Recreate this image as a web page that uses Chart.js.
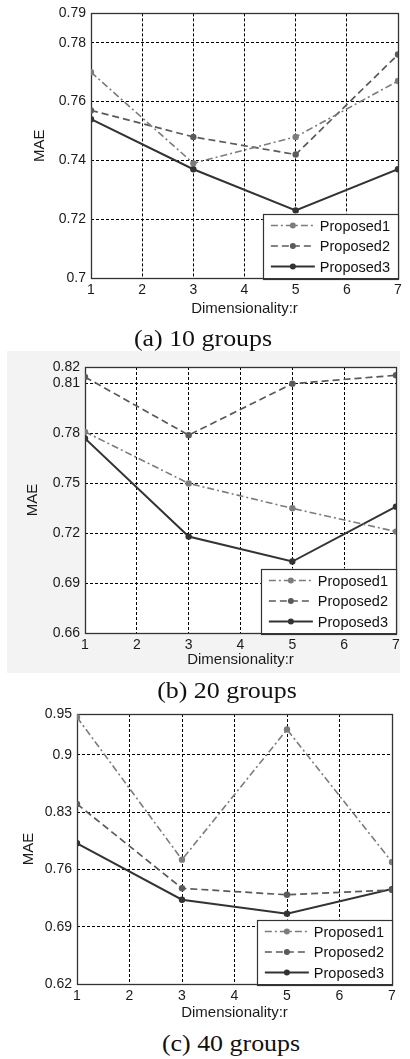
<!DOCTYPE html>
<html>
<head>
<meta charset="utf-8">
<script src="https://cdn.jsdelivr.net/npm/chart.js@4.4.0/dist/chart.umd.min.js"></script>
<style>
  html, body { margin:0; padding:0; background:#fff; }
  body { width:410px; height:1059px; position:relative; overflow:hidden; }
  .wrap { position:absolute; left:0; width:410px; }
  .grayBg { position:absolute; left:7px; top:351px; width:393px; height:322px; background:#f3f3f3; }
  .cap { position:absolute; font-family:"Liberation Serif","Times New Roman",serif; font-size:24px; color:#111;
         transform:translate(-50%,-50%) scaleX(1.08); white-space:nowrap; z-index:5; line-height:1; }
</style>
</head>
<body>
<div class="grayBg"></div>
<div class="wrap" style="top:0;height:320px"><canvas id="cA" width="410" height="320"></canvas></div>
<div class="wrap" style="top:340px;height:340px"><canvas id="cB" width="410" height="340"></canvas></div>
<div class="wrap" style="top:690px;height:340px"><canvas id="cC" width="410" height="340"></canvas></div>
<div class="cap" style="left:203px;top:338px">(a) 10 groups</div>
<div class="cap" style="left:227px;top:690px">(b) 20 groups</div>
<div class="cap" style="left:231px;top:1043px">(c) 40 groups</div>
<script>
// ---------- data ----------
const dims = [1, 3, 5, 7];
const seriesNames = ['Proposed1', 'Proposed2', 'Proposed3'];
const xTicks = [1, 2, 3, 4, 5, 6, 7];

// (a) 10 groups
const a_p1 = [0.770, 0.739, 0.748, 0.767];
const a_p2 = [0.757, 0.748, 0.742, 0.776];
const a_p3 = [0.754, 0.737, 0.723, 0.737];
const a_yTicks = [0.70, 0.72, 0.74, 0.76, 0.78, 0.79];
const a_yLabels = ['0.7', '0.72', '0.74', '0.76', '0.78', '0.79'];

// (b) 20 groups
const b_p1 = [0.781, 0.750, 0.735, 0.721];
const b_p2 = [0.814, 0.779, 0.810, 0.815];
const b_p3 = [0.777, 0.718, 0.703, 0.736];
const b_yTicks = [0.66, 0.69, 0.72, 0.75, 0.78, 0.81, 0.82];
const b_yLabels = ['0.66', '0.69', '0.72', '0.75', '0.78', '0.81', '0.82'];

// (c) 40 groups
const c_p1 = [0.946, 0.772, 0.931, 0.769];
const c_p2 = [0.840, 0.737, 0.729, 0.735];
const c_p3 = [0.792, 0.723, 0.706, 0.736];
const c_yTicks = [0.62, 0.69, 0.76, 0.83, 0.90, 0.95];
const c_yLabels = ['0.62', '0.69', '0.76', '0.83', '0.9', '0.95'];

const xTitle = 'Dimensionality:r';
const yTitle = 'MAE';

// ---------- styles ----------
const styles = [
  { color: '#7c7c7c', dash: [7, 3, 2, 3], width: 1.6 },
  { color: '#5a5a5a', dash: [7, 4], width: 1.7 },
  { color: '#333333', dash: [], width: 2 }
];
const FONT = '"Liberation Sans", Arial, sans-serif';

const framePlugin = {
  id: 'frame',
  beforeDraw(chart, args, opts) {
    const a = chart.chartArea, ctx = chart.ctx;
    if (opts.fill) {
      ctx.save(); ctx.fillStyle = opts.fill;
      ctx.fillRect(a.left, a.top, a.right - a.left, a.bottom - a.top);
      ctx.restore();
    }
  },
  beforeDatasetsDraw(chart) {
    const a = chart.chartArea, ctx = chart.ctx;
    ctx.save();
    ctx.strokeStyle = '#333'; ctx.lineWidth = 1.3; ctx.setLineDash([]);
    ctx.strokeRect(Math.round(a.left) + 0.5, Math.round(a.top) + 0.5,
      Math.round(a.right - a.left), Math.round(a.bottom - a.top));
    ctx.restore();
  }
};

const boxLegend = {
  id: 'boxLegend',
  afterDraw(chart, args, opts) {
    const ctx = chart.ctx, a = chart.chartArea;
    ctx.save();
    ctx.font = '14.5px ' + FONT;
    const names = chart.data.datasets.map(d => d.label);
    const tw = Math.max(...names.map(n => ctx.measureText(n).width));
    const textX = 57, rowH = 20.5;
    const w = textX + tw + 8, h = rowH * names.length + 3;
    const x0 = a.right - w, y0 = a.bottom - h;
    ctx.fillStyle = '#fff';
    ctx.fillRect(x0, y0, w, h);
    ctx.strokeStyle = '#333'; ctx.lineWidth = 1.2;
    ctx.strokeRect(Math.round(x0) + 0.5, Math.round(y0) + 0.5, Math.round(w), Math.round(h));
    chart.data.datasets.forEach((d, i) => {
      const cy = y0 + 12 + i * rowH;
      ctx.strokeStyle = d.borderColor; ctx.lineWidth = d.borderWidth;
      ctx.setLineDash(d.borderDash || []);
      ctx.beginPath(); ctx.moveTo(x0 + 8, cy); ctx.lineTo(x0 + 52, cy); ctx.stroke();
      ctx.setLineDash([]);
      ctx.fillStyle = d.borderColor;
      ctx.beginPath(); ctx.arc(x0 + 30, cy, 3, 0, Math.PI * 2); ctx.fill();
      ctx.fillStyle = '#111'; ctx.textBaseline = 'middle'; ctx.textAlign = 'left';
      ctx.fillText(d.label, x0 + textX, cy + 1);
    });
    ctx.restore();
  }
};

function makeChart(id, series, yTicks, yLabels, lay) {
  const datasets = series.map((vals, i) => ({
    label: seriesNames[i],
    data: dims.map((x, k) => ({ x: x, y: vals[k] })),
    borderColor: styles[i].color,
    backgroundColor: styles[i].color,
    borderWidth: styles[i].width,
    borderDash: styles[i].dash,
    pointRadius: 3.2,
    pointBorderWidth: 0,
    pointBackgroundColor: styles[i].color,
    tension: 0,
    fill: false
  }));
  return new Chart(document.getElementById(id), {
    type: 'line',
    data: { datasets },
    plugins: [framePlugin, boxLegend],
    options: {
      responsive: false,
      animation: false,
      devicePixelRatio: 1,
      layout: { padding: { left: lay.padL, right: lay.padR, top: lay.padT, bottom: lay.padB } },
      plugins: {
        legend: { display: false },
        tooltip: { enabled: false },
        frame: { fill: lay.fill || null }
      },
      scales: {
        x: {
          type: 'linear', min: 1, max: 7,
          afterBuildTicks: s => { s.ticks = xTicks.map(v => ({ value: v })); },
          afterFit: s => { s.height = lay.xH; },
          ticks: { color: '#1a1a1a', font: { family: FONT, size: 14 }, padding: 4,
                   maxRotation: 0, autoSkip: false, callback: v => String(v) },
          grid: { color: '#000', lineWidth: 1, drawTicks: false },
          border: { display: false, dash: [3, 2] },
          title: { display: true, text: xTitle, color: '#1a1a1a',
                   font: { family: FONT, size: 15 }, padding: 0 }
        },
        y: {
          type: 'linear', min: yTicks[0], max: yTicks[yTicks.length - 1],
          afterBuildTicks: s => { s.ticks = yTicks.map(v => ({ value: v })); },
          afterFit: s => { s.width = lay.yW; },
          ticks: { color: '#1a1a1a', font: { family: FONT, size: 14 }, padding: 5,
                   autoSkip: false, callback: (v, i) => yLabels[i] },
          grid: { color: '#000', lineWidth: 1, drawTicks: false },
          border: { display: false, dash: [3, 2] },
          title: { display: true, text: yTitle, color: '#1a1a1a',
                   font: { family: FONT, size: 15 }, padding: 0 }
        }
      }
    }
  });
}

makeChart('cA', [a_p1, a_p2, a_p3], a_yTicks, a_yLabels,
  { padL: 31, padR: 12, padT: 13, padB: 2, xH: 40, yW: 60 });
makeChart('cB', [b_p1, b_p2, b_p3], b_yTicks, b_yLabels,
  { padL: 24, padR: 14, padT: 27, padB: 11, xH: 36, yW: 61, fill: '#ffffff' });
makeChart('cC', [c_p1, c_p2, c_p3], c_yTicks, c_yLabels,
  { padL: 20, padR: 18, padT: 24, padB: 8, xH: 38, yW: 57 });
</script>
</body>
</html>
